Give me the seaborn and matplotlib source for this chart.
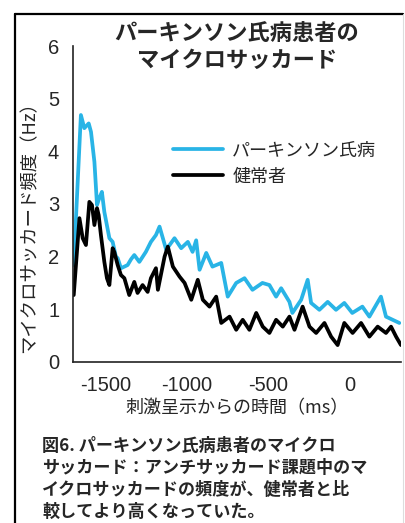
import matplotlib
matplotlib.use("Agg")
import matplotlib.pyplot as plt
from matplotlib.lines import Line2D
import seaborn as sns
import pandas as pd

# Microsaccade rate (Hz) vs. time from stimulus onset (ms)
pd_time = [-1696, -1652, -1631, -1604, -1590, -1569, -1553, -1539, -1523, -1508,
           -1477, -1457, -1437, -1426, -1406, -1385, -1365, -1344, -1324, -1293,
           -1253, -1222, -1191, -1169, -1128, -1077, -1036, -995, -966, -944,
           -923, -882, -844, -790, -750, -698, -647, -598, -537, -494,
           -453, -422, -371, -353, -299, -259, -238, -187, -136, -85,
           -34, 15, 77, 120, 191, 222, 304]
pd_rate = [1.84, 4.69, 4.44, 4.53, 4.37, 3.80, 2.98, 3.11, 3.23, 2.85,
           2.35, 2.28, 2.00, 1.97, 1.78, 1.81, 1.84, 1.95, 2.03, 1.90,
           2.09, 2.28, 2.41, 2.57, 2.13, 2.35, 2.16, 2.28, 2.09, 2.31,
           1.75, 2.07, 1.81, 1.88, 1.24, 1.50, 1.59, 1.37, 1.50, 1.46,
           1.24, 1.40, 1.14, 0.93, 1.18, 1.56, 1.12, 0.99, 1.14, 0.99,
           1.12, 0.93, 1.05, 0.86, 1.24, 0.86, 0.74]

hc_time = [-1696, -1661, -1641, -1621, -1600, -1584, -1569, -1553, -1543, -1529,
           -1508, -1492, -1477, -1457, -1447, -1426, -1406, -1385, -1355, -1324,
           -1304, -1273, -1242, -1222, -1191, -1179, -1138, -1118, -1087, -1046,
           -1015, -974, -934, -903, -862, -821, -790, -739, -698, -658,
           -617, -575, -535, -494, -453, -412, -371, -340, -290, -248,
           -207, -156, -115, -75, -34, 17, 69, 120, 171, 222,
           253, 284, 314]
hc_rate = [1.27, 2.73, 2.35, 2.22, 3.04, 2.98, 2.60, 2.92, 2.79, 2.41,
           1.90, 1.59, 1.46, 2.16, 2.09, 1.84, 1.65, 1.59, 1.27, 1.52,
           1.31, 1.46, 1.33, 1.59, 1.78, 1.37, 2.00, 2.19, 1.81, 1.62,
           1.50, 1.18, 1.56, 1.18, 1.05, 1.24, 0.74, 0.86, 0.61, 0.80,
           0.61, 0.93, 0.67, 0.55, 0.80, 0.67, 0.86, 0.61, 1.05, 0.67,
           0.55, 0.74, 0.48, 0.32, 0.74, 0.55, 0.74, 0.48, 0.67, 0.55,
           0.67, 0.48, 0.32]

group_names = ["パーキンソン氏病", "健常者"]
group_colors = ["#29b4e6", "#000000"]
y_ticks = [0, 1, 2, 3, 4, 5, 6]
x_ticks = [-1500, -1000, -500, 0]

title_text = "パーキンソン氏病患者の\nマイクロサッカード"
x_label = "刺激呈示からの時間（ms）"
y_label = "マイクロサッカード頻度（Hz）"
caption = ("図6. パーキンソン氏病患者のマイクロ\n"
           "サッカード：アンチサッカード課題中のマ\n"
           "イクロサッカードの頻度が、健常者と比\n"
           "較してより高くなっていた。")

sns.set_style("white")
plt.rcParams["font.family"] = ["Noto Sans CJK JP", "DejaVu Sans"]
plt.rcParams["axes.unicode_minus"] = False

df_pd = pd.DataFrame({"time": pd_time, "rate": pd_rate})
df_hc = pd.DataFrame({"time": hc_time, "rate": hc_rate})

fig = plt.figure(figsize=(4.06, 5.23), dpi=100)
ax = fig.add_axes([0.180, 0.308, 0.808, 0.604])

sns.lineplot(data=df_pd, x="time", y="rate", ax=ax, color=group_colors[0],
             linewidth=2.7, label=group_names[0])
sns.lineplot(data=df_hc, x="time", y="rate", ax=ax, color=group_colors[1],
             linewidth=2.7, label=group_names[1])

ax.set_xlim(-1700, 315)
ax.set_ylim(0, 6)
ax.set_xticks(x_ticks)
ax.set_yticks(y_ticks)
ax.set_xlabel(x_label, fontsize=13, labelpad=3)
ax.set_ylabel("")
fig.text(0.072, 0.575, y_label, rotation=90, ha="center", va="center", fontsize=13.2)

sns.despine(ax=ax)
for side in ("left", "bottom"):
    ax.spines[side].set_linewidth(1.2)
    ax.spines[side].set_color("#222222")
ax.tick_params(axis="both", direction="out", length=4, width=1.1,
               color="#222222", labelsize=14.5, pad=6)
for lab in ax.get_xticklabels() + ax.get_yticklabels():
    lab.set_fontfamily("Liberation Sans")

ax.legend(loc="center left", bbox_to_anchor=(0.385, 0.687),
          bbox_transform=fig.transFigure, frameon=False, fontsize=13,
          handlelength=2.8, handletextpad=0.5, labelspacing=0.45)

fig.text(0.584, 0.911, title_text, ha="center", va="center", fontsize=16,
         fontweight="bold", linespacing=1.22)

fig.text(0.104, 0.084, caption, ha="left", va="center", fontsize=12.3,
         fontweight="bold", linespacing=1.3)

# surrounding frame
fig.add_artist(Line2D([15 / 406, 15 / 406], [0, 1 - 14 / 523],
                      transform=fig.transFigure, color="black", linewidth=1.6))
fig.add_artist(Line2D([15 / 406, 403 / 406], [1 - 14 / 523, 1 - 14 / 523],
                      transform=fig.transFigure, color="black", linewidth=1.6))
fig.add_artist(Line2D([403 / 406, 403 / 406], [0, 1 - 14 / 523],
                      transform=fig.transFigure, color="#dddddd", linewidth=0.8))

fig.savefig("out.png", dpi=100)
